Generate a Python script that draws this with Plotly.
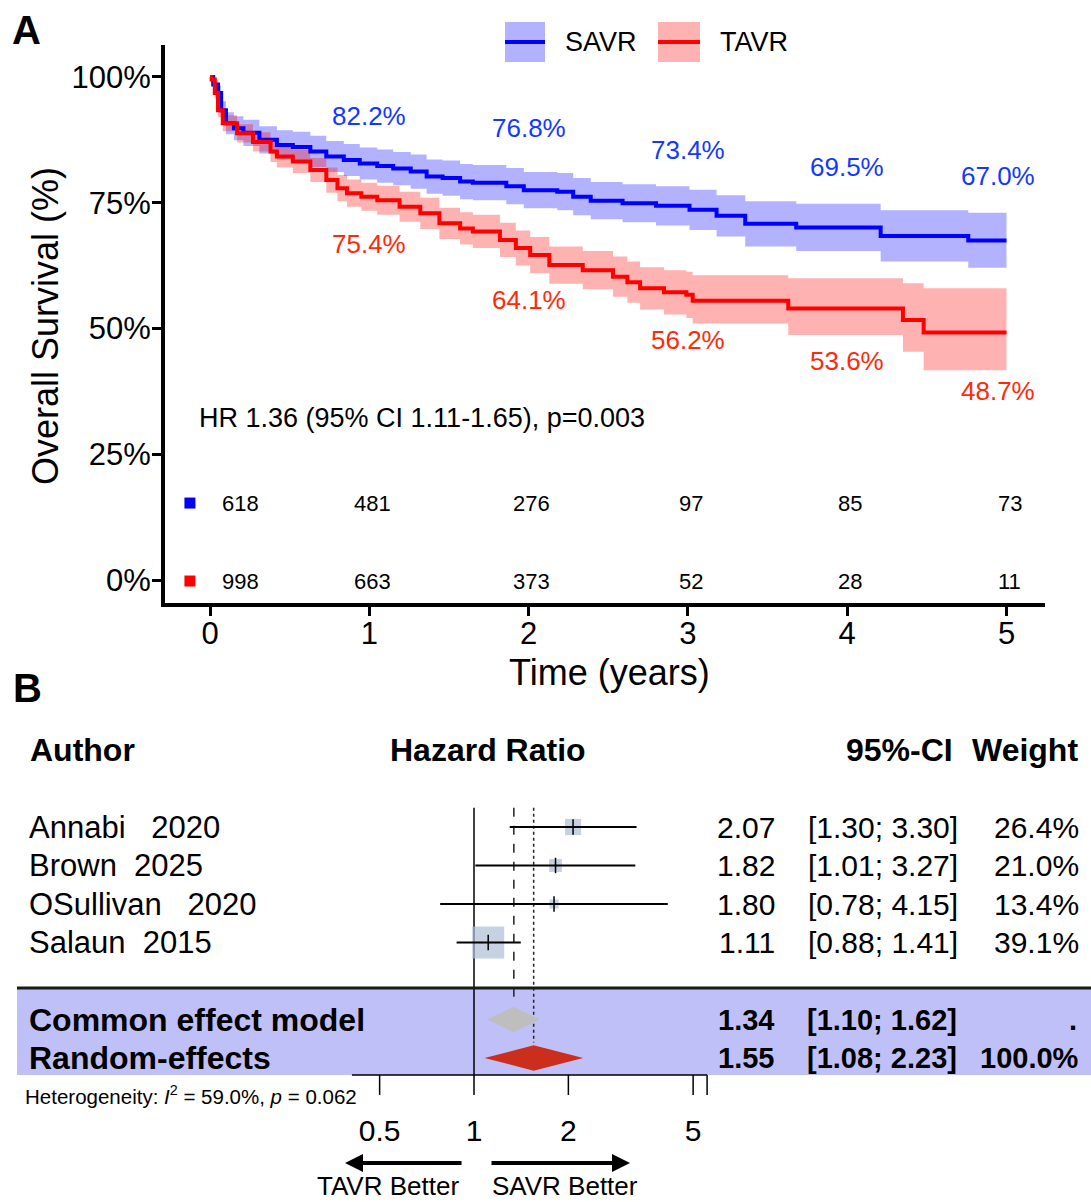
import numpy as np
import plotly.graph_objects as go

W, H = 1091, 1202
FONT = "Liberation Sans, Arial, Helvetica, sans-serif"

# ---------------- Panel A data (Kaplan-Meier) ----------------
savr_t = [0, 0.02, 0.05, 0.07, 0.10, 0.15, 0.21, 0.31, 0.42, 0.52, 0.63, 0.73, 0.84, 0.94,
          1.05, 1.15, 1.26, 1.36, 1.46, 1.57, 1.65, 1.86, 1.97, 2.18, 2.28, 2.39, 2.59,
          2.80, 3.01, 3.18, 3.36, 3.68, 4.21, 4.76, 5.0]
savr_s = [100, 98.5, 96.8, 93.4, 90.8, 89.8, 88.9, 87.5, 86.5, 86.1, 85.2, 84.2, 83.5, 82.8,
          82.3, 81.8, 81.2, 80.2, 79.9, 79.2, 79.0, 78.3, 77.5, 77.2, 76.2, 75.4, 74.9,
          74.4, 73.6, 72.4, 70.8, 70.1, 68.4, 67.5, 67.5]
savr_lo = [100, 97.5, 95.3, 91.6, 88.6, 87.4, 86.3, 84.8, 83.6, 83.1, 82.1, 81.1, 80.3, 79.6,
           79.0, 78.5, 77.8, 76.8, 76.4, 75.7, 75.5, 74.7, 73.9, 73.5, 72.5, 71.7, 71.1,
           70.5, 69.6, 68.3, 66.3, 65.4, 63.3, 62.1, 62.1]
savr_hi = [100, 99.5, 98.3, 95.2, 93.0, 92.2, 91.5, 90.2, 89.4, 89.1, 88.3, 87.3, 86.7, 86.0,
           85.6, 85.1, 84.6, 83.6, 83.4, 82.7, 82.5, 81.9, 81.1, 80.9, 79.9, 79.1, 78.7,
           78.3, 77.6, 76.5, 75.3, 74.8, 73.5, 73.0, 73.0]

tavr_t = [0, 0.01, 0.03, 0.05, 0.08, 0.17, 0.27, 0.38, 0.42, 0.52, 0.63, 0.73, 0.80, 0.86,
          0.95, 1.05, 1.19, 1.32, 1.44, 1.57, 1.65, 1.82, 1.92, 2.01, 2.13, 2.34, 2.53,
          2.62, 2.70, 2.85, 2.99, 3.03, 3.63, 4.35, 4.48, 5.0]
tavr_s = [100, 99.5, 96.8, 93.4, 90.8, 88.8, 87.1, 85.2, 84.2, 83.2, 81.5, 79.5, 77.9, 76.9,
          76.2, 75.5, 74.2, 72.9, 70.9, 69.9, 69.3, 67.6, 66.0, 64.6, 62.6, 61.6, 60.3,
          59.2, 58.0, 57.2, 56.7, 55.5, 54.0, 51.7, 49.2, 49.2]
tavr_lo = [100, 99.0, 95.7, 92.0, 89.2, 87.0, 85.2, 83.1, 82.0, 80.9, 79.1, 77.0, 75.3, 74.2,
           73.4, 72.6, 71.2, 69.8, 67.8, 66.7, 66.0, 64.2, 62.5, 61.0, 58.9, 57.8, 56.3,
           55.1, 53.8, 52.8, 52.1, 51.0, 48.7, 45.4, 41.7, 41.7]
tavr_hi = [100, 100, 97.9, 94.8, 92.4, 90.6, 89.0, 87.3, 86.4, 85.5, 83.9, 82.0, 80.5, 79.6,
           79.0, 78.4, 77.2, 76.0, 74.0, 73.1, 72.6, 71.0, 69.5, 68.2, 66.3, 65.4, 64.3,
           63.3, 62.2, 61.6, 61.3, 60.6, 60.0, 59.0, 58.0, 58.0]

landmark_years = [1, 2, 3, 4, 5]
savr_landmark = [82.2, 76.8, 73.4, 69.5, 67.0]
tavr_landmark = [75.4, 64.1, 56.2, 53.6, 48.7]

risk_times = [0, 1, 2, 3, 4, 5]
savr_risk = [618, 481, 276, 97, 85, 73]
tavr_risk = [998, 663, 373, 52, 28, 11]

x_ticks_a = [0, 1, 2, 3, 4, 5]
y_ticks_a = [0, 25, 50, 75, 100]
y_ticklabels_a = ["0%", "25%", "50%", "75%", "100%"]
hr_text = "HR 1.36 (95% CI 1.11-1.65), p=0.003"

# ---------------- Panel B data (forest plot) ----------------
authors = ["Annabi", "Brown", "OSullivan", "Salaun"]
years = ["2020", "2025", "2020", "2015"]
study_hr = [2.07, 1.82, 1.80, 1.11]
study_lo = [1.30, 1.01, 0.78, 0.88]
study_hi = [3.30, 3.27, 4.15, 1.41]
study_weight = [26.4, 21.0, 13.4, 39.1]
common_est = [1.34, 1.10, 1.62]
random_est = [1.55, 1.08, 2.23]
common_weight_text = "."
random_weight_total = 100.0
i2_value = 59.0
p_het = 0.062
forest_ticks = [0.5, 1, 2, 5]

# ---------------- layout positions (not data) ----------------
savr_label_y = [92.2, 89.9, 85.5, 82.1, 80.3]
tavr_label_y = [66.8, 55.7, 47.7, 43.5, 37.6]
label_xshift = [0, 0, 0, 0, -9]
risk_xshift = [30, 3, 3, 3, 3, 3]
risk_row_y = [15.3, -0.2]
author_gap = [3, 2, 3, 2]


def px(x):
    return x / W


def py(y):
    return 1 - y / H


BLUE = "#0000FF"
RED = "#FF0000"

fig = go.Figure()

# ---- Panel A: confidence bands ----
for t, lo, hi, col in [(savr_t, savr_lo, savr_hi, "rgba(0,0,255,0.30)"),
                       (tavr_t, tavr_lo, tavr_hi, "rgba(255,0,0,0.30)")]:
    fig.add_trace(go.Scatter(x=t, y=hi, mode="lines", line=dict(width=0, shape="hv"),
                             showlegend=False, hoverinfo="skip", xaxis="x", yaxis="y"))
    fig.add_trace(go.Scatter(x=t, y=lo, mode="lines", line=dict(width=0, shape="hv"),
                             fill="tonexty", fillcolor=col,
                             showlegend=False, hoverinfo="skip", xaxis="x", yaxis="y"))

# ---- Panel A: survival curves ----
fig.add_trace(go.Scatter(x=savr_t, y=savr_s, mode="lines", line=dict(color=BLUE, width=4, shape="hv"),
                         showlegend=False, xaxis="x", yaxis="y"))
fig.add_trace(go.Scatter(x=tavr_t, y=tavr_s, mode="lines", line=dict(color=RED, width=4, shape="hv"),
                         showlegend=False, xaxis="x", yaxis="y"))

# ---- Panel A: risk table markers ----
fig.add_trace(go.Scatter(x=[-0.126, -0.126], y=risk_row_y, mode="markers",
                         marker=dict(symbol="square", size=11, color=[BLUE, RED]),
                         showlegend=False, xaxis="x", yaxis="y"))

annotations = []
shapes = []

for i, t in enumerate(landmark_years):
    annotations.append(dict(x=t, y=savr_label_y[i], xref="x", yref="y", text=f"{savr_landmark[i]:.1f}%",
                            showarrow=False, xshift=label_xshift[i], xanchor="center", yanchor="middle",
                            font=dict(family=FONT, size=26, color="#1438FF")))
    annotations.append(dict(x=t, y=tavr_label_y[i], xref="x", yref="y", text=f"{tavr_landmark[i]:.1f}%",
                            showarrow=False, xshift=label_xshift[i], xanchor="center", yanchor="middle",
                            font=dict(family=FONT, size=26, color="#FF2A0A")))

for i, t in enumerate(risk_times):
    for row, vals in enumerate([savr_risk, tavr_risk]):
        annotations.append(dict(x=t, y=risk_row_y[row], xref="x", yref="y", text=str(vals[i]),
                                showarrow=False, xshift=risk_xshift[i], xanchor="center", yanchor="middle",
                                font=dict(family=FONT, size=22, color="black")))

annotations.append(dict(x=-0.08, y=32.2, xref="x", yref="y", text=hr_text, showarrow=False,
                        xanchor="left", yanchor="middle", font=dict(family=FONT, size=27, color="black")))

# axis titles
annotations.append(dict(x=px(45), y=py(326), xref="paper", yref="paper", text="Overall Survival (%)",
                        textangle=-90, showarrow=False, xanchor="center", yanchor="middle",
                        font=dict(family=FONT, size=36, color="black")))
annotations.append(dict(x=px(609), y=py(673), xref="paper", yref="paper", text="Time (years)",
                        showarrow=False, xanchor="center", yanchor="middle",
                        font=dict(family=FONT, size=36, color="black")))

# panel letters
annotations.append(dict(x=px(26), y=py(30), xref="paper", yref="paper", text="<b>A</b>", showarrow=False,
                        xanchor="center", yanchor="middle", font=dict(family=FONT, size=40, color="black")))
annotations.append(dict(x=px(27), y=py(688), xref="paper", yref="paper", text="<b>B</b>", showarrow=False,
                        xanchor="center", yanchor="middle", font=dict(family=FONT, size=40, color="black")))

# legend (manual)
for x0, x1, tx, name, fillc, linec in [(505, 545, 563, "SAVR", "rgba(0,0,255,0.30)", BLUE),
                                       (658, 700, 718, "TAVR", "rgba(255,0,0,0.30)", RED)]:
    shapes.append(dict(type="rect", xref="paper", yref="paper", x0=px(x0), x1=px(x1), y0=py(62), y1=py(22),
                       fillcolor=fillc, line=dict(width=0)))
    shapes.append(dict(type="line", xref="paper", yref="paper", x0=px(x0), x1=px(x1), y0=py(42), y1=py(42),
                       line=dict(color=linec, width=4)))
    annotations.append(dict(x=px(tx), y=py(42), xref="paper", yref="paper", text=name, showarrow=False,
                            xanchor="left", yanchor="middle", font=dict(family=FONT, size=27, color="black")))

# ---------------- Panel B ----------------
rows = [1, 2, 3, 4]
row_common, row_random = 6, 7
row_header = -1.0
axis_row = 7.44
tick_end_row = 7.96
ticklabel_row = 8.95
top_row = 0.5

# band behind summary rows
shapes.append(dict(type="rect", xref="paper", yref="paper", x0=px(17), x1=1.0, y0=py(1075), y1=py(988),
                   fillcolor="#C0C0F8", line=dict(width=0), layer="below"))
shapes.append(dict(type="line", xref="paper", yref="paper", x0=px(17), x1=1.0, y0=py(988), y1=py(988),
                   line=dict(color="#1a1a1a", width=3)))

# reference and summary vertical lines
fig.add_trace(go.Scatter(x=[1, 1], y=[top_row, axis_row], mode="lines", line=dict(color="black", width=1.5),
                         showlegend=False, xaxis="x2", yaxis="y2", hoverinfo="skip"))
fig.add_trace(go.Scatter(x=[common_est[0]] * 2, y=[top_row, row_common - 0.4], mode="lines",
                         line=dict(color="#222", width=1.5, dash="dash"),
                         showlegend=False, xaxis="x2", yaxis="y2", hoverinfo="skip"))
fig.add_trace(go.Scatter(x=[random_est[0]] * 2, y=[top_row, row_random - 0.4], mode="lines",
                         line=dict(color="#222", width=1.5, dash="dot"),
                         showlegend=False, xaxis="x2", yaxis="y2", hoverinfo="skip"))

# squares sized by inverse-variance weight
se = (np.log(study_hi) - np.log(study_lo)) / (2 * 1.96)
w_iv = 1 / se ** 2
sizes = 32 * np.sqrt(w_iv / w_iv.max())
fig.add_trace(go.Scatter(x=study_hr, y=rows, mode="markers",
                         marker=dict(symbol="square", size=sizes, color="#AEBED6", line=dict(width=0)),
                         showlegend=False, xaxis="x2", yaxis="y2", hoverinfo="skip"))
ci_x, ci_y = [], []
for lo, hi, r in zip(study_lo, study_hi, rows):
    ci_x += [lo, hi, None]
    ci_y += [r, r, None]
fig.add_trace(go.Scatter(x=ci_x, y=ci_y, mode="lines", line=dict(color="black", width=1.8),
                         showlegend=False, xaxis="x2", yaxis="y2", hoverinfo="skip"))
fig.add_trace(go.Scatter(x=study_hr, y=rows, mode="markers",
                         marker=dict(symbol="line-ns", size=11, line=dict(color="black", width=1.5)),
                         showlegend=False, xaxis="x2", yaxis="y2", hoverinfo="skip"))

# diamonds
for est, r, col in [(common_est, row_common, "#BEBEBE"), (random_est, row_random, "#CC2E1E")]:
    e, lo, hi = est
    fig.add_trace(go.Scatter(x=[lo, e, hi, e, lo], y=[r, r - 0.33, r, r + 0.33, r], mode="lines",
                             fill="toself", fillcolor=col, line=dict(width=0),
                             showlegend=False, xaxis="x2", yaxis="y2", hoverinfo="skip"))

# forest x axis
axis_ends = [0.408, 5.54]
fig.add_trace(go.Scatter(x=axis_ends, y=[axis_row, axis_row], mode="lines", line=dict(color="black", width=1.5),
                         showlegend=False, xaxis="x2", yaxis="y2", hoverinfo="skip"))
tx, ty = [], []
for v in forest_ticks + [axis_ends[1]]:
    tx += [v, v, None]
    ty += [axis_row, tick_end_row, None]
fig.add_trace(go.Scatter(x=tx, y=ty, mode="lines", line=dict(color="black", width=1.5),
                         showlegend=False, xaxis="x2", yaxis="y2", hoverinfo="skip"))
fig.add_trace(go.Scatter(x=forest_ticks, y=[ticklabel_row] * len(forest_ticks), mode="text",
                         text=[f"{v:g}" for v in forest_ticks], textposition="middle center",
                         textfont=dict(family=FONT, size=30, color="black"),
                         showlegend=False, xaxis="x2", yaxis="y2", hoverinfo="skip"))

NB = "\u00a0"


def txt(x, row, text, anchor, size=30, bold=False):
    t = f"<b>{text}</b>" if bold else text
    annotations.append(dict(x=px(x), y=row, xref="paper", yref="y2", text=t, showarrow=False,
                            xanchor=anchor, yanchor="middle", font=dict(family=FONT, size=size, color="black")))


txt(28, row_header, "Author", "left", 32, True)
txt(488, row_header, "Hazard Ratio", "center", 32, True)
txt(955, row_header, "95%-CI", "right", 32, True)
txt(1080, row_header, "Weight", "right", 32, True)

for i, r in enumerate(rows):
    txt(27, r, f"{authors[i]}{NB * author_gap[i]}{years[i]}", "left", 31)
    txt(777, r, f"{study_hr[i]:.2f}", "right", 30)
    txt(960, r, f"[{study_lo[i]:.2f}; {study_hi[i]:.2f}]", "right", 30)
    txt(1081, r, f"{study_weight[i]:.1f}%", "right", 30)

txt(27, row_common, "Common effect model", "left", 32, True)
txt(776, row_common, f"{common_est[0]:.2f}", "right", 29, True)
txt(959, row_common, f"[{common_est[1]:.2f}; {common_est[2]:.2f}]", "right", 29, True)
txt(1079, row_common, common_weight_text, "right", 29, True)
txt(27, row_random, "Random-effects", "left", 32, True)
txt(776, row_random, f"{random_est[0]:.2f}", "right", 29, True)
txt(959, row_random, f"[{random_est[1]:.2f}; {random_est[2]:.2f}]", "right", 29, True)
txt(1081, row_random, f"{random_weight_total:.1f}%", "right", 29, True)

annotations.append(dict(x=px(23), y=py(1095), xref="paper", yref="paper",
                        text=f"Heterogeneity: <i>I</i><sup>2</sup> = {i2_value:.1f}%, <i>p</i> = {p_het:.3f}",
                        showarrow=False, xanchor="left", yanchor="middle",
                        font=dict(family=FONT, size=20.5, color="black")))

# direction arrows
annotations.append(dict(x=px(345), y=py(1163), xref="paper", yref="paper", ax=118, ay=0, text="",
                        showarrow=True, arrowhead=2, arrowsize=0.9, arrowwidth=4, arrowcolor="black"))
annotations.append(dict(x=px(630), y=py(1163), xref="paper", yref="paper", ax=-140, ay=0, text="",
                        showarrow=True, arrowhead=2, arrowsize=0.9, arrowwidth=4, arrowcolor="black"))
annotations.append(dict(x=px(388), y=py(1186), xref="paper", yref="paper", text="TAVR Better", showarrow=False,
                        xanchor="center", yanchor="middle", font=dict(family=FONT, size=26, color="black")))
annotations.append(dict(x=px(565), y=py(1186), xref="paper", yref="paper", text="SAVR Better", showarrow=False,
                        xanchor="center", yanchor="middle", font=dict(family=FONT, size=26, color="black")))

axis_style = dict(showline=True, linewidth=4, linecolor="black", ticks="outside", ticklen=9, tickwidth=2.5,
                  tickcolor="black", showgrid=False, zeroline=False,
                  tickfont=dict(family=FONT, size=31, color="black"))

fig.update_layout(
    width=W, height=H,
    margin=dict(l=0, r=0, t=0, b=0, autoexpand=False),
    paper_bgcolor="white", plot_bgcolor="rgba(0,0,0,0)",
    showlegend=False,
    xaxis=dict(domain=[px(165), px(1045)], range=[-0.2825, 5.2417], tickvals=x_ticks_a, anchor="y",
               ticklabelstandoff=-9, **axis_style),
    yaxis=dict(domain=[py(603), py(45)], range=[-4.57, 106.36], tickvals=y_ticks_a, ticktext=y_ticklabels_a,
               anchor="x", ticklabelstandoff=-5, **axis_style),
    xaxis2=dict(type="log", domain=[0, 1], range=[-1.51196, 1.96810], visible=False, anchor="y2"),
    yaxis2=dict(domain=[0, py(690)], range=[10.7403, -2.5584], visible=False, anchor="x2"),
    annotations=annotations,
    shapes=shapes,
)

fig.write_html("out.html", config={"displayModeBar": False},
               post_script="document.body.style.margin='0px';")
